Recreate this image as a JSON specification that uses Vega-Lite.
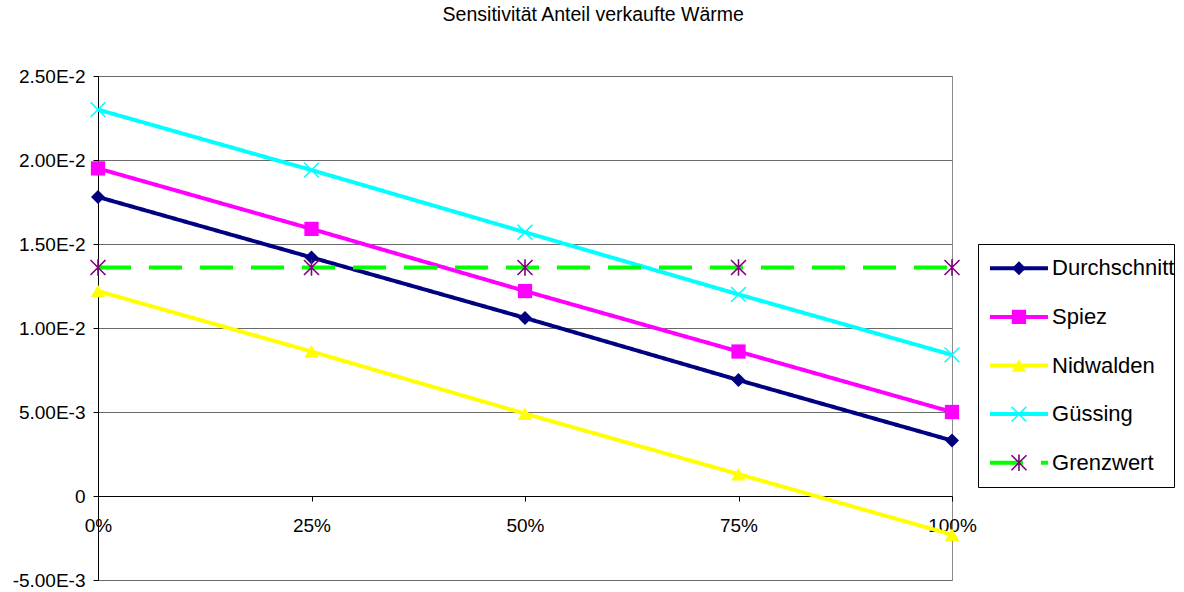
{
  "$schema": "https://vega.github.io/schema/vega-lite/v6.json",
  "background": "white",
  "padding": {"left": 11, "top": 5, "right": 5, "bottom": 5},
  "title": {
    "text": "Sensitivität Anteil verkaufte Wärme",
    "font": "Liberation Sans",
    "fontSize": 19.5,
    "fontWeight": "normal",
    "color": "black",
    "anchor": "middle",
    "offset": 41
  },
  "config": {
    "font": "Liberation Sans",
    "view": {"stroke": null}
  },
  "datasets": {
    "werte": [
      {"anteil": 0, "serie": "Durchschnitt", "wert": 0.0178},
      {"anteil": 0.25, "serie": "Durchschnitt", "wert": 0.0142},
      {"anteil": 0.5, "serie": "Durchschnitt", "wert": 0.0106},
      {"anteil": 0.75, "serie": "Durchschnitt", "wert": 0.0069},
      {"anteil": 1, "serie": "Durchschnitt", "wert": 0.0033},
      {"anteil": 0, "serie": "Spiez", "wert": 0.0195},
      {"anteil": 0.25, "serie": "Spiez", "wert": 0.0159},
      {"anteil": 0.5, "serie": "Spiez", "wert": 0.0122},
      {"anteil": 0.75, "serie": "Spiez", "wert": 0.0086},
      {"anteil": 1, "serie": "Spiez", "wert": 0.005},
      {"anteil": 0, "serie": "Nidwalden", "wert": 0.0122},
      {"anteil": 0.25, "serie": "Nidwalden", "wert": 0.0086},
      {"anteil": 0.5, "serie": "Nidwalden", "wert": 0.0049},
      {"anteil": 0.75, "serie": "Nidwalden", "wert": 0.0013},
      {"anteil": 1, "serie": "Nidwalden", "wert": -0.0023},
      {"anteil": 0, "serie": "Güssing", "wert": 0.023},
      {"anteil": 0.25, "serie": "Güssing", "wert": 0.0194},
      {"anteil": 0.5, "serie": "Güssing", "wert": 0.0157},
      {"anteil": 0.75, "serie": "Güssing", "wert": 0.012},
      {"anteil": 1, "serie": "Güssing", "wert": 0.0084},
      {"anteil": 0, "serie": "Grenzwert", "wert": 0.0136},
      {"anteil": 0.25, "serie": "Grenzwert", "wert": 0.0136},
      {"anteil": 0.5, "serie": "Grenzwert", "wert": 0.0136},
      {"anteil": 0.75, "serie": "Grenzwert", "wert": 0.0136},
      {"anteil": 1, "serie": "Grenzwert", "wert": 0.0136}
    ]
  },
  "spacing": 0,
  "hconcat": [
    {
      "width": 854,
      "height": 504,
      "view": {"stroke": "#8c8c8c"},
      "data": {"name": "werte"},
      "encoding": {
        "x": {
          "field": "anteil",
          "type": "quantitative",
          "scale": {"domain": [0, 1], "nice": false, "zero": false},
          "axis": {
            "values": [0, 0.25, 0.5, 0.75, 1],
            "format": ".0%",
            "offset": -84,
            "grid": false,
            "title": null,
            "domainColor": "black",
            "domainWidth": 1,
            "tickColor": "black",
            "tickSize": 5,
            "labelFlush": false,
            "labelOverlap": false,
            "labelFont": "Liberation Sans",
            "labelFontSize": 19,
            "labelColor": "black",
            "labelPadding": 15
          }
        },
        "y": {
          "field": "wert",
          "type": "quantitative",
          "scale": {"domain": [-0.005, 0.025], "nice": false, "zero": false},
          "axis": {
            "values": [-0.005, 0, 0.005, 0.01, 0.015, 0.02, 0.025],
            "labelExpr": "datum.value == 0 ? '0' : replace(replace(format(datum.value, '.2e'), 'e', 'E'), '−', '-')",
            "grid": true,
            "gridColor": "#6a6a6a",
            "gridWidth": 1,
            "title": null,
            "domainColor": "black",
            "tickColor": "black",
            "tickSize": 5,
            "labelFont": "Liberation Sans",
            "labelFontSize": 19,
            "labelColor": "black",
            "labelPadding": 8
          }
        }
      },
      "layer": [
        {
          "mark": {"type": "line", "strokeWidth": 4},
          "encoding": {
            "color": {
              "field": "serie",
              "type": "nominal",
              "scale": {
                "domain": ["Durchschnitt", "Spiez", "Nidwalden", "Güssing", "Grenzwert"],
                "range": ["#000080", "#ff00ff", "#ffff00", "#00ffff", "#00ff00"]
              },
              "legend": null
            },
            "strokeDash": {
              "field": "serie",
              "type": "nominal",
              "scale": {
                "domain": ["Durchschnitt", "Spiez", "Nidwalden", "Güssing", "Grenzwert"],
                "range": [[1, 0], [1, 0], [1, 0], [1, 0], [33, 18]]
              },
              "legend": null
            }
          }
        },
        {
          "transform": [{"filter": {"field": "serie", "oneOf": ["Durchschnitt", "Spiez", "Nidwalden"]}}],
          "mark": {"type": "point", "filled": true, "opacity": 1, "strokeWidth": 0},
          "encoding": {
            "shape": {
              "field": "serie",
              "type": "nominal",
              "scale": {
                "domain": ["Durchschnitt", "Spiez", "Nidwalden", "Güssing", "Grenzwert"],
                "range": ["diamond", "square", "triangle-up", "M-1,-1L1,1M-1,1L1,-1", "M-1,-1L1,1M-1,1L1,-1M0,-1.1L0,1.1"]
              },
              "legend": null
            },
            "fill": {
              "field": "serie",
              "type": "nominal",
              "scale": {"domain": ["Durchschnitt", "Spiez", "Nidwalden"], "range": ["#000080", "#ff00ff", "#ffff00"]},
              "legend": null
            },
            "size": {
              "field": "serie",
              "type": "nominal",
              "scale": {
                "domain": ["Durchschnitt", "Spiez", "Nidwalden", "Güssing", "Grenzwert"],
                "range": [196, 225, 256, 225, 225]
              },
              "legend": null
            }
          }
        },
        {
          "transform": [{"filter": {"field": "serie", "oneOf": ["Güssing", "Grenzwert"]}}],
          "mark": {"type": "point", "filled": false, "opacity": 1, "strokeWidth": 1.6},
          "encoding": {
            "shape": {
              "field": "serie",
              "type": "nominal",
              "scale": {
                "domain": ["Durchschnitt", "Spiez", "Nidwalden", "Güssing", "Grenzwert"],
                "range": ["diamond", "square", "triangle-up", "M-1,-1L1,1M-1,1L1,-1", "M-1,-1L1,1M-1,1L1,-1M0,-1.1L0,1.1"]
              },
              "legend": null
            },
            "stroke": {
              "field": "serie",
              "type": "nominal",
              "scale": {"domain": ["Güssing", "Grenzwert"], "range": ["#00ffff", "#800080"]},
              "legend": null
            },
            "size": {
              "field": "serie",
              "type": "nominal",
              "scale": {
                "domain": ["Durchschnitt", "Spiez", "Nidwalden", "Güssing", "Grenzwert"],
                "range": [196, 225, 256, 225, 225]
              },
              "legend": null
            }
          }
        }
      ]
    },
    {
      "spacing": 0,
      "vconcat": [
        {
          "width": 196,
          "height": 167,
          "data": {"values": []},
          "mark": {"type": "point", "opacity": 0},
          "view": {"stroke": null}
        },
        {
          "width": 196,
          "height": 243,
          "view": {"stroke": "black", "strokeWidth": 1},
          "data": {"name": "werte"},
          "transform": [{"filter": "datum.anteil == 0"}],
          "encoding": {
            "y": {
              "field": "serie",
              "type": "nominal",
              "scale": {
                "type": "point",
                "padding": 0.5,
                "domain": ["Durchschnitt", "Spiez", "Nidwalden", "Güssing", "Grenzwert"]
              },
              "axis": null
            }
          },
          "layer": [
            {
              "mark": {"type": "rule", "strokeWidth": 4},
              "encoding": {
                "x": {"datum": 0.061, "type": "quantitative", "scale": {"domain": [0, 1], "nice": false, "zero": false}, "axis": null},
                "x2": {"datum": 0.357},
                "color": {
                  "field": "serie",
                  "type": "nominal",
                  "scale": {
                    "domain": ["Durchschnitt", "Spiez", "Nidwalden", "Güssing", "Grenzwert"],
                    "range": ["#000080", "#ff00ff", "#ffff00", "#00ffff", "#00ff00"]
                  },
                  "legend": null
                },
                "strokeDash": {
                  "field": "serie",
                  "type": "nominal",
                  "scale": {
                    "domain": ["Durchschnitt", "Spiez", "Nidwalden", "Güssing", "Grenzwert"],
                    "range": [[1, 0], [1, 0], [1, 0], [1, 0], [33, 18]]
                  },
                  "legend": null
                }
              }
            },
            {
              "transform": [{"filter": {"field": "serie", "oneOf": ["Durchschnitt", "Spiez", "Nidwalden"]}}],
              "mark": {"type": "point", "filled": true, "opacity": 1, "strokeWidth": 0},
              "encoding": {
                "x": {"datum": 0.209, "type": "quantitative"},
                "shape": {
                  "field": "serie",
                  "type": "nominal",
                  "scale": {
                    "domain": ["Durchschnitt", "Spiez", "Nidwalden", "Güssing", "Grenzwert"],
                    "range": ["diamond", "square", "triangle-up", "M-1,-1L1,1M-1,1L1,-1", "M-1,-1L1,1M-1,1L1,-1M0,-1.1L0,1.1"]
                  },
                  "legend": null
                },
                "fill": {
                  "field": "serie",
                  "type": "nominal",
                  "scale": {"domain": ["Durchschnitt", "Spiez", "Nidwalden"], "range": ["#000080", "#ff00ff", "#ffff00"]},
                  "legend": null
                },
                "size": {
                  "field": "serie",
                  "type": "nominal",
                  "scale": {
                    "domain": ["Durchschnitt", "Spiez", "Nidwalden", "Güssing", "Grenzwert"],
                    "range": [196, 225, 256, 225, 225]
                  },
                  "legend": null
                }
              }
            },
            {
              "transform": [{"filter": {"field": "serie", "oneOf": ["Güssing", "Grenzwert"]}}],
              "mark": {"type": "point", "filled": false, "opacity": 1, "strokeWidth": 1.6},
              "encoding": {
                "x": {"datum": 0.209, "type": "quantitative"},
                "shape": {
                  "field": "serie",
                  "type": "nominal",
                  "scale": {
                    "domain": ["Durchschnitt", "Spiez", "Nidwalden", "Güssing", "Grenzwert"],
                    "range": ["diamond", "square", "triangle-up", "M-1,-1L1,1M-1,1L1,-1", "M-1,-1L1,1M-1,1L1,-1M0,-1.1L0,1.1"]
                  },
                  "legend": null
                },
                "stroke": {
                  "field": "serie",
                  "type": "nominal",
                  "scale": {"domain": ["Güssing", "Grenzwert"], "range": ["#00ffff", "#800080"]},
                  "legend": null
                },
                "size": {
                  "field": "serie",
                  "type": "nominal",
                  "scale": {
                    "domain": ["Durchschnitt", "Spiez", "Nidwalden", "Güssing", "Grenzwert"],
                    "range": [196, 225, 256, 225, 225]
                  },
                  "legend": null
                }
              }
            },
            {
              "mark": {"type": "text", "align": "left", "baseline": "middle", "font": "Liberation Sans", "fontSize": 22, "color": "black"},
              "encoding": {
                "x": {"datum": 0.378, "type": "quantitative"},
                "text": {"field": "serie", "type": "nominal"}
              }
            }
          ]
        }
      ]
    }
  ]
}
